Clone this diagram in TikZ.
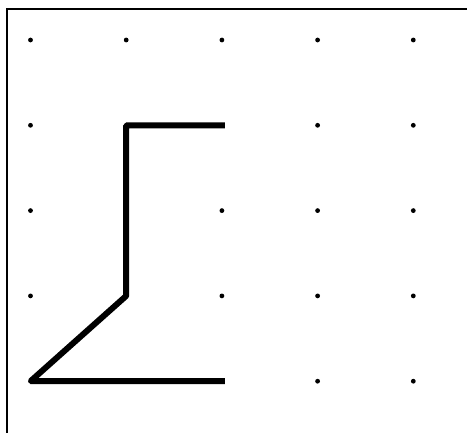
\documentclass[tikz,border=0pt]{standalone}
\usepackage{tikz}
\tikzset{
  frame/.style={draw, line width=1.4pt},
  griddot/.style={fill=black},
  path/.style={draw, line width=3.4pt, line join=bevel, line cap=rect}}

\begin{document}
\begin{tikzpicture}[x=0.02cm, y=-0.02cm]
  \useasboundingbox (0,0) rectangle (467,433);
  \begin{scope}
    \clip (0,0) rectangle (467,433);
    \draw[frame] (7,9) rectangle (480,450);
  \end{scope}
  % dot grid, column i, row j
  \foreach \i in {0,...,4} \foreach \j in {0,...,4} {
    \coordinate (p-\i-\j) at (30.5+95.7*\i, 40+85.3*\j);
    \fill[griddot] (p-\i-\j) circle (2.4);
  }
  \draw[path] (p-2-1) -- (p-1-1) -- (p-1-3) -- (p-0-4) -- (p-2-4);
\end{tikzpicture}
\end{document}
